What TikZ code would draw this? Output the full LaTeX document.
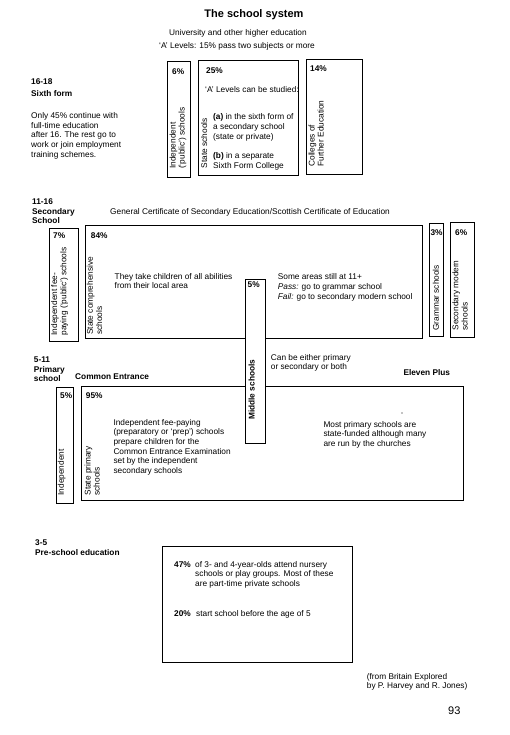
\documentclass[tikz,border=0pt]{standalone}
\usepackage{fontspec}
\setmainfont{Liberation Sans}
\begin{document}
\begin{tikzpicture}[x=1pt,y=-1pt,
  box/.style={draw, line width=0.8pt},
  t/.style={font=\fontsize{8.3}{9.7}\selectfont, align=left, inner sep=0pt, anchor=base west},
  tb/.style={t, font=\fontsize{8.3}{9.7}\selectfont\bfseries},
  rt/.style={t, rotate=90, font=\fontsize{8.3}{9.2}\selectfont},
  rtb/.style={rt, font=\fontsize{8.3}{9.2}\selectfont\bfseries},
]
\useasboundingbox[fill=white] (0,0) rectangle (510,735);
% note: multi-line nodes are placed by the baseline of their last line

% ---------- header ----------
\node[font=\fontsize{11}{13}\selectfont\bfseries, inner sep=0pt, anchor=base] (title) at (254,17.5) {The school system};
\node[t] (univ) at (169,35.5) {University and other higher education};
\node[t] (alev) at (159,48.5) {`A' Levels: 15\% pass two subjects or more};

% ---------- 16-18 ----------
\node[tb] (age1618) at (31,84.5) {16-18};
\node[tb] (sixth) at (31,97) {Sixth form};
\node[t] (only45) at (31,157.4) {Only 45\% continue with\\full-time education\\after 16. The rest go to\\work or join employment\\training schemes.};

\draw[box] (167,61) rectangle (190.5,177);
\draw[box] (198,60) rectangle (298.5,175.5);
\draw[box] (306,59.5) rectangle (362.5,174.5);

\node[tb] (p6) at (172,74.5) {6\%};
\node[tb] (p25) at (206,73.5) {25\%};
\node[tb] (p14) at (310,72) {14\%};
\node[t] (canbe) at (205,93) {`A' Levels can be studied:};
\node[t] (opta) at (213,139.4) {\textbf{(a)} in the sixth form of\\a secondary school\\(state or private)};
\node[t] (optb) at (213,168.2) {\textbf{(b)} in a separate\\Sixth Form College};
\node[rt] (indep6) at (184.7,169) {Independent\\(`public') schools};
\node[rt] (state6) at (207.2,168.3) {State schools};
\node[rt] (coll) at (323.7,166.7) {Colleges of\\Further Education};

% ---------- 11-16 ----------
\node[tb] (age1116) at (32,223.9) {11-16\\Secondary\\School};
\node[t] (gcse) at (110,214.5) {General Certificate of Secondary Education/Scottish Certificate of Education};

\draw[box] (49,228) rectangle (78,341);
\draw[box] (85,225) rectangle (422,338.5);
\draw[box] (429,223) rectangle (443.5,336.5);
\draw[box] (450,222.5) rectangle (474,337);

\node[tb] (p7) at (53,238) {7\%};
\node[tb] (p84) at (90.7,238) {84\%};
\node[tb] (p3) at (430.3,235) {3\%};
\node[tb] (p6b) at (455,235) {6\%};
\node[t] (theytake) at (114.5,288.7) {They take children of all abilities\\from their local area};
\node[t] (someareas) at (277.7,299) {Some areas still at 11+\\\textit{Pass:} go to grammar school\\\textit{Fail:} go to secondary modern school};
\node[rt] (indepsec) at (66.4,335.7) {Independent fee-\\paying (`public') schools};
\node[rt] (comp) at (102.1,335) {State comprehensive\\schools};
\node[rt] (gram) at (438.9,330.7) {Grammar schools};
\node[rt] (secmod) at (467.5,330.7) {Secondary modern\\schools};

% ---------- 5-11 ----------
\node[tb] (age511) at (33.7,381.9) {5-11\\Primary\\school};
\node[tb] (common) at (75,379.5) {Common Entrance};
\node[t] (either) at (270.7,369.7) {Can be either primary\\or secondary or both};
\node[tb] (eleven) at (403.3,375) {Eleven Plus};

\draw[box] (56,387) rectangle (73.3,503);
\draw[box] (81,386) rectangle (463,500);

\node[tb] (p5) at (60,398.5) {5\%};
\node[tb] (p95) at (85.7,398.5) {95\%};
\node[t] (prep) at (113.3,473.5) {Independent fee-paying\\(preparatory or `prep') schools\\prepare children for the\\Common Entrance Examination\\set by the independent\\secondary schools};
\node[t] (most) at (323.3,446.4) {Most primary schools are\\state-funded although many\\are run by the churches};
\fill (402,413) circle (0.7);
\node[rt] (indepprim) at (63.9,495.7) {Independent};
\node[rt] (stateprim) at (99.7,495.7) {State primary\\schools};

% ---------- middle schools ----------
\draw[box, fill=white] (245,279) rectangle (265,443);
\node[tb] (p5m) at (247.5,287.5) {5\%};
\node[rtb] (middle) at (254.5,420) {Middle schools};

% ---------- 3-5 ----------
\node[tb] (age35) at (35,555.6) {3-5\\Pre-school education};
\draw[box] (162,546) rectangle (352,662);
\node[tb] (p47) at (174,567.5) {47\%};
\node[t] (nursery) at (195,586.6) {of 3- and 4-year-olds attend nursery\\schools or play groups. Most of these\\are part-time private schools};
\node[tb] (p20) at (174,616) {20\%};
\node[t] (before5) at (196,616) {start school before the age of 5};

% ---------- source ----------
\node[t] (source) at (366.7,688.7) {(from Britain Explored\\by P. Harvey and R. Jones)};
\node[font=\fontsize{11}{13}\selectfont, inner sep=0pt, anchor=base west] (page) at (448,714) {93};
\end{tikzpicture}
\end{document}
